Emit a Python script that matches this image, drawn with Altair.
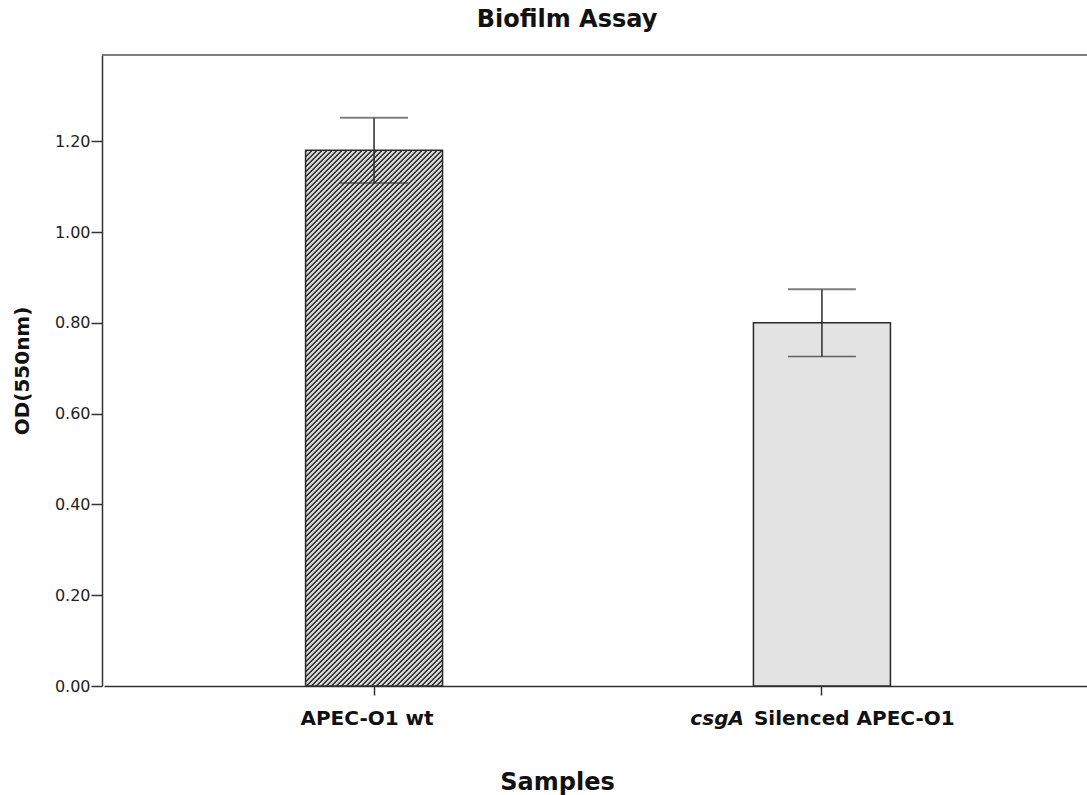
import altair as alt
import pandas as pd

# ---- data ----
samples = ["APEC-O1 wt", "csgA Silenced APEC-O1"]
od_means = [1.18, 0.80]
od_errors = [0.072, 0.074]
y_ticks = [0.0, 0.2, 0.4, 0.6, 0.8, 1.0, 1.2]
label_main = ["APEC-O1 wt", "Silenced APEC-O1"]
label_italic = ["", "csgA"]
chart_title = ["Biofilm Assay"]

# ---- layout / style constants ----
Y_MAX = 1.39
W, H = 985, 631
BAR_W = 137
DARK = "#383838"
LIGHT = "#d8d8d8"
HATCH_PERIOD = 5.0  # pixels (measured along x)

df = pd.DataFrame({
    "sample": samples,
    "od": od_means,
    "err": od_errors,
    "main": label_main,
    "ital": label_italic,
})
df_title = pd.DataFrame({"title": chart_title})

# diagonal hatch as a linear gradient with repeating stops (stripes running "/")
hatch_h = od_means[0] / Y_MAX * H
diag = BAR_W + hatch_h
r = BAR_W / hatch_h
s = diag / (hatch_h * (1 + r * r))
p = HATCH_PERIOD / diag
stops = []
i = 0
while i * p < 1.0:
    a = i * p
    pts = [
        (a, LIGHT),
        (a + 0.12 * p, DARK),
        (a + 0.42 * p, DARK),
        (a + 0.54 * p, LIGHT),
    ]
    for off, col in pts:
        if off <= 1.0:
            stops.append(alt.GradientStop(color=col, offset=off))
    i += 1
hatch = alt.LinearGradient(gradient="linear", stops=stops, x1=0, y1=0, x2=r * s, y2=s)

x_enc = alt.X(
    "sample:N",
    sort=samples,
    scale=alt.Scale(range=[2, 990], paddingInner=0.694, paddingOuter=0.45),
    axis=alt.Axis(
        labels=False,
        title="Samples",
        titleX=455,
        titleY=103,
        titleAlign="center",
        titleBaseline="alphabetic",
        titleFont="DejaVu Sans",
        titleFontSize=24,
        titleFontWeight="bold",
        titleColor="#111",
        domainColor="#333",
        domainWidth=1.5,
        tickColor="#333",
        tickWidth=1.5,
        tickSize=9,
        grid=False,
    ),
)

y_axis = alt.Axis(
    values=y_ticks,
    format=".2f",
    title="OD(550nm)",
    titleFont="DejaVu Sans",
    titleFontSize=20,
    titleFontWeight="bold",
    titleColor="#111",
    titlePadding=22,
    labelFont="DejaVu Sans",
    labelFontSize=16,
    labelColor="#222",
    labelPadding=1,
    domainColor="#333",
    domainWidth=1.5,
    tickColor="#333",
    tickWidth=1.5,
    tickSize=11,
    grid=False,
)
y_scale = alt.Scale(domain=[0, Y_MAX], nice=False, zero=True)

base = alt.Chart(df)

bar_wt = base.transform_filter(alt.datum.sample == samples[0]).mark_bar(
    size=BAR_W, fill=hatch, stroke="#2a2a2a", strokeWidth=1.5
).encode(
    x=x_enc,
    y=alt.Y("od:Q", scale=y_scale, axis=y_axis, title="OD(550nm)"),
)

bar_si = base.transform_filter(alt.datum.sample == samples[1]).mark_bar(
    size=BAR_W, fill="#e3e3e3", stroke="#2a2a2a", strokeWidth=1.5
).encode(
    x=x_enc,
    y=alt.Y("od:Q", scale=y_scale, axis=y_axis, title="OD(550nm)"),
)

err_base = base.transform_calculate(
    lo="datum.od - datum.err", hi="datum.od + datum.err"
)

err_rule = err_base.mark_rule(color="#2a2a2a", strokeWidth=1.5).encode(
    x=x_enc,
    y=alt.Y("lo:Q", scale=y_scale, axis=y_axis, title="OD(550nm)"),
    y2="hi:Q",
)
cap_hi = err_base.mark_tick(size=68, thickness=2, color="#4a4a4a").encode(
    x=x_enc,
    y=alt.Y("hi:Q", scale=y_scale, axis=y_axis, title="OD(550nm)"),
)
cap_lo = err_base.mark_tick(size=68, thickness=1.5, color="#2a2a2a").encode(
    x=x_enc,
    y=alt.Y("lo:Q", scale=y_scale, axis=y_axis, title="OD(550nm)"),
)

lab_font = dict(font="DejaVu Sans", fontWeight="bold", fontSize=20, color="#111", baseline="alphabetic")
lab_plain = base.transform_filter(alt.datum.ital == "").mark_text(
    align="center", dx=-7, **lab_font
).encode(x=x_enc, y=alt.value(H + 39), text="main:N")
lab_ital = base.transform_filter(alt.datum.ital != "").mark_text(
    align="right", dx=-78, fontStyle="italic", **lab_font
).encode(x=x_enc, y=alt.value(H + 39), text="ital:N")
lab_rest = base.transform_filter(alt.datum.ital != "").mark_text(
    align="left", dx=-68, **lab_font
).encode(x=x_enc, y=alt.value(H + 39), text="main:N")

title_mark = alt.Chart(df_title).mark_text(
    font="DejaVu Sans", fontWeight="bold", fontSize=24, color="#111",
    align="center", baseline="alphabetic"
).encode(x=alt.value(465), y=alt.value(-28), text="title:N")

top_border = alt.Chart(df_title).mark_rule(color="#555", strokeWidth=1.5).encode(
    x=alt.value(0), x2=alt.value(W), y=alt.value(0)
)

chart = alt.layer(
    bar_wt, bar_si, err_rule, cap_hi, cap_lo,
    lab_plain, lab_ital, lab_rest, title_mark, top_border,
).properties(
    width=W,
    height=H,
    autosize=alt.AutoSizeParams(type="none"),
    padding={"left": 102, "top": 55, "right": 0, "bottom": 109},
    background="white",
).configure_view(stroke=None)

chart.save("out.html", embed_options={"renderer": "svg", "actions": False})
